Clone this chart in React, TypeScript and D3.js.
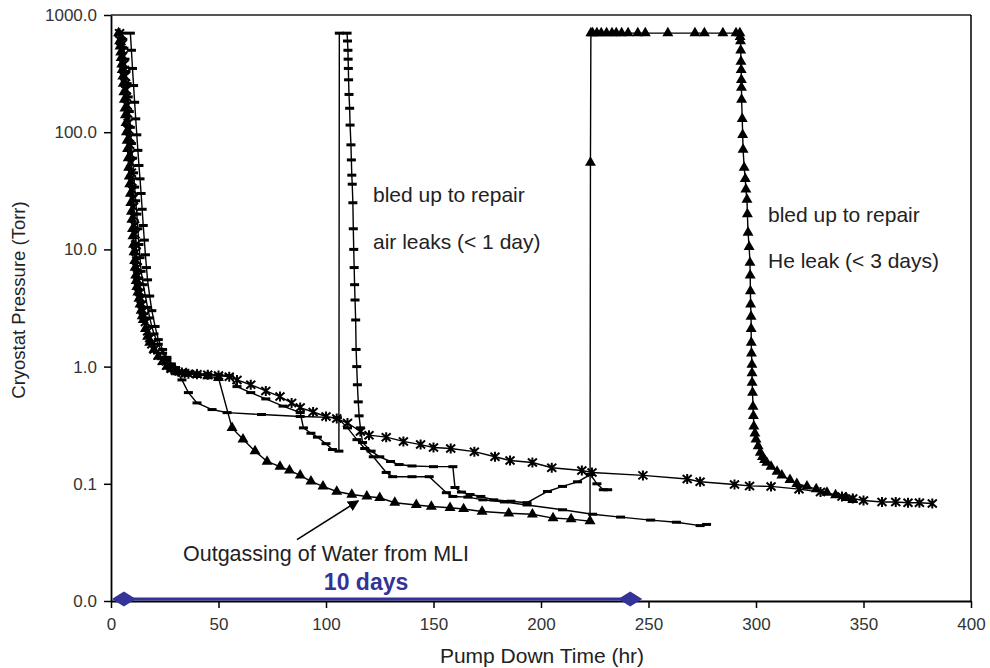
import * as d3 from "d3";
import { useEffect, useRef } from "react";

const xTicks = [0, 50, 100, 150, 200, 250, 300, 350, 400];
const yTicks = [0.01, 0.1, 1, 10, 100, 1000];

// run A (asterisk markers): uninterrupted pumpdown
const runA: [number, number][] = [
  [4, 700], [4.6, 600], [5, 560], [5.2, 500], [5.5, 450], [6, 380], [6.2, 340], [6.5, 300],
  [6.8, 260], [7, 230], [7.2, 200], [7.5, 170], [7.7, 145], [8, 120], [8.2, 105], [8.5, 90],
  [8.7, 78], [9, 65], [9.2, 55], [9.5, 45], [9.7, 38], [10, 32], [10.2, 27], [10.5, 23],
  [10.7, 19], [11, 16], [11.2, 13.5], [11.5, 11], [11.7, 9.5], [12, 8], [12.2, 7], [12.5, 6],
  [12.8, 5.4], [13, 4.8], [13.5, 4.3], [14, 3.8], [14.5, 3.4], [15, 3], [15.5, 2.7], [16, 2.4],
  [17, 2], [18, 1.75], [19, 1.55], [20, 1.4], [22, 1.25], [24, 1.12], [26, 1.02], [28, 0.96],
  [30, 0.92], [33, 0.89], [36, 0.87], [40, 0.86], [45, 0.85], [50, 0.84], [55, 0.82],
  [58.6, 0.77], [65, 0.7], [72, 0.62], [78.6, 0.555], [84, 0.49], [88, 0.447], [94, 0.41],
  [100, 0.375], [105, 0.36], [110, 0.33], [116, 0.28], [120, 0.26], [128, 0.25], [136, 0.23],
  [144, 0.216], [150, 0.204], [158, 0.2], [169, 0.188], [178.6, 0.17], [185.6, 0.158],
  [196, 0.152], [205, 0.137], [219, 0.13], [223.7, 0.125], [247.4, 0.118], [268, 0.11],
  [274, 0.104], [290, 0.0985], [297, 0.096], [307, 0.095], [320, 0.09], [330, 0.085],
  [340, 0.078], [345, 0.075], [350, 0.072], [358.6, 0.07], [365, 0.07], [370.7, 0.069],
  [376, 0.069], [382, 0.068],
];

// run B (triangles): He leak, bled up at ~222 hr, repumped at ~292 hr
const runB: [number, number][] = [
  [3.5, 700], [4, 600], [4.2, 540], [4.5, 480], [4.7, 430], [5, 380], [5.2, 340], [5.5, 300],
  [5.7, 260], [6, 220], [6.2, 190], [6.5, 160], [6.7, 140], [7, 120], [7.2, 100], [7.5, 85],
  [7.7, 72], [8, 60], [8.2, 50], [8.5, 42], [8.7, 36], [9, 30], [9.2, 25], [9.5, 21],
  [9.7, 18], [10, 15], [10.2, 13], [10.5, 11], [10.7, 9.5], [11, 8], [11.2, 7], [11.5, 6],
  [11.7, 5.4], [12, 4.8], [12.5, 4.3], [13, 3.8], [13.5, 3.4], [14, 3], [14.5, 2.7], [15, 2.5],
  [16, 2.1], [17, 1.8], [18, 1.6], [20, 1.4], [22, 1.22], [24, 1.1], [26, 1.0], [28, 0.95],
  [31, 0.9], [35, 0.87], [40, 0.85], [45, 0.83], [50, 0.8], [56.3, 0.3], [61.4, 0.24],
  [67, 0.19], [72.6, 0.155], [78.6, 0.14], [83, 0.13], [88, 0.118], [93, 0.105], [98.6, 0.095],
  [105, 0.086], [112, 0.081], [119, 0.078], [125, 0.076], [132, 0.069], [142, 0.066],
  [149, 0.064], [157.7, 0.0625], [164, 0.061], [172.6, 0.058], [185, 0.056], [196, 0.055],
  [205.6, 0.051], [214, 0.05], [222.8, 0.048], [223, 55], [223.2, 700], [224, 700], [226, 700],
  [228, 700], [230.5, 700], [233, 700], [235, 700], [237.5, 700], [240.5, 700], [245, 700],
  [248.5, 700], [259, 700], [271.6, 700], [276, 700], [284.6, 700], [290.7, 700], [292.5, 700],
  [292.6, 650], [292.8, 600], [292.9, 500], [293, 400], [293.1, 340], [293.2, 280],
  [293.25, 240], [293.3, 190], [293.6, 130], [293.8, 95], [294, 71], [294.5, 50], [295, 40],
  [295.3, 32.5], [295.8, 26.6], [296, 20], [296.3, 13.9], [296.8, 10.5], [297.2, 7.7],
  [297.3, 6], [297.4, 4.4], [297.5, 3.4], [297.7, 2.67], [297.75, 2.1], [297.8, 1.6],
  [297.9, 1.3], [298.1, 1.04], [298.15, 0.88], [298.2, 0.73], [298.4, 0.6], [298.6, 0.455],
  [298.8, 0.38], [299, 0.31], [299.5, 0.27], [300, 0.24], [301, 0.21], [302, 0.185],
  [303, 0.17], [304, 0.16], [305, 0.152], [307, 0.14], [309.8, 0.127], [312, 0.118],
  [315.8, 0.108], [319, 0.1], [323.7, 0.095], [328, 0.09], [333, 0.084], [337, 0.08],
  [342, 0.076], [345, 0.073],
];

// run C (dash markers): bled up at ~106 hr for air leaks, repumped at ~110 hr
const runC: [number, number][] = [
  [5, 700], [5.5, 620], [6, 520], [6.5, 420], [7, 330], [7.5, 260], [8, 200], [8.5, 150],
  [9, 110], [9.5, 80], [10, 60], [10.5, 45], [11, 34], [11.5, 26], [12, 20], [12.5, 15],
  [13, 11], [13.5, 8.5], [14, 6.5], [15, 5], [16, 4], [17, 3.2], [18, 2.6], [19, 2.2],
  [20, 1.9], [22, 1.55], [24, 1.3], [26, 1.15], [28, 1.05], [30, 0.98], [33, 0.92],
  [36, 0.89], [40, 0.87], [45, 0.86], [50, 0.85], [55, 0.84], [58.6, 0.675], [65, 0.6],
  [72, 0.53], [80, 0.46], [88, 0.405], [89.5, 0.3], [93, 0.27], [96, 0.25], [100, 0.22],
  [103, 0.196], [106, 0.19], [106.2, 700], [109.8, 700], [110, 600], [110.2, 500], [110.3, 420],
  [110.4, 350], [110.5, 280], [110.7, 210], [111, 160], [111.2, 115], [111.6, 78], [111.8, 58],
  [112, 43], [112.2, 36], [112.5, 25], [112.7, 15], [112.9, 10], [113.1, 7], [113.3, 5],
  [113.5, 3.7], [113.8, 2.5], [114, 1.4], [114.3, 1.0], [114.6, 0.7], [115, 0.5], [115.4, 0.38],
  [116, 0.3], [117, 0.225], [121, 0.19], [125, 0.17], [130, 0.155], [134, 0.146], [140, 0.142],
  [150, 0.14], [159, 0.14], [160, 0.093], [163, 0.085], [167, 0.081], [172, 0.078], [178, 0.073],
  [186, 0.071], [193.5, 0.069], [203, 0.086], [210, 0.095], [217, 0.104], [223, 0.12],
  [226, 0.1], [229, 0.089], [231, 0.089],
];

// run D (sparse dash markers): ends at 277 hr
const runD: [number, number][] = [
  [9, 700], [9.5, 500], [10, 350], [10.5, 250], [11, 180], [11.5, 130], [12, 95], [12.5, 70],
  [13, 52], [13.5, 40], [14, 30], [14.5, 22], [15, 16], [15.5, 12], [16, 9], [16.5, 7],
  [17, 5.5], [18, 4], [19, 3], [20.5, 2.2], [22, 1.7], [24, 1.4], [26, 1.2], [28, 1.05],
  [30, 0.95], [33, 0.77], [36, 0.6], [40, 0.49], [47, 0.43], [54, 0.405], [70, 0.39],
  [88, 0.375], [105.3, 0.367], [110, 0.3], [114.4, 0.238], [118, 0.2], [122, 0.17], [128, 0.125],
  [131, 0.115], [140, 0.115], [148, 0.115], [156, 0.084], [159, 0.078], [166, 0.077],
  [173, 0.073], [183, 0.07], [193.5, 0.066], [210, 0.06], [224, 0.055], [237, 0.052],
  [251, 0.049], [263, 0.047], [274, 0.044], [277, 0.045],
];

const tenDays = [6, 241.5];
const arrowFrom: [number, number] = [86.5, 0.0334];
const arrowTo: [number, number] = [115, 0.0715];

const W = 990, H = 668;
const margin = { top: 15, right: 19, bottom: 67, left: 111 };
const font = "'Liberation Sans', Arial, sans-serif";

const Chart = () => {
  const ref = useRef<SVGSVGElement>(null);

  useEffect(() => {
    const svg = d3.select(ref.current);
    svg.selectAll("*").remove();

    const x = d3.scaleLinear().domain([0, 400]).range([margin.left, W - margin.right]);
    const y = d3.scaleLog().domain([0.01, 1000]).range([H - margin.bottom, margin.top]);

    svg.append("rect").attr("width", W).attr("height", H).attr("fill", "#fff");

    // frame
    svg.append("line")
      .attr("x1", x(0)).attr("x2", x(400)).attr("y1", y(1000)).attr("y2", y(1000))
      .attr("stroke", "#555").attr("stroke-width", 2);
    svg.append("line")
      .attr("x1", x(400)).attr("x2", x(400)).attr("y1", y(1000)).attr("y2", y(0.01))
      .attr("stroke", "#000").attr("stroke-width", 1.5);

    // axes
    const xAxis = svg.append("g")
      .attr("transform", `translate(0,${y(0.01)})`)
      .call(d3.axisBottom(x).tickValues(xTicks).tickSize(7).tickSizeOuter(0).tickPadding(10));
    const yAxis = svg.append("g")
      .attr("transform", `translate(${x(0)},0)`)
      .call(d3.axisLeft(y).tickValues(yTicks).tickFormat(d3.format(".1f")).tickSize(7).tickSizeOuter(0).tickPadding(7));
    [xAxis, yAxis].forEach((g) => {
      g.select(".domain").attr("stroke", "#000").attr("stroke-width", 1.8);
      g.selectAll(".tick line").attr("stroke", "#000").attr("stroke-width", 1.5);
      g.selectAll(".tick text").attr("fill", "#333").attr("font-size", 17).attr("font-family", font);
    });

    const line = d3.line<[number, number]>().x((d) => x(d[0])).y((d) => y(d[1]));
    const plot = svg.append("g");

    const drawLine = (data: [number, number][]) =>
      plot.append("path").datum(data).attr("d", line)
        .attr("fill", "none").attr("stroke", "#000").attr("stroke-width", 1.4);

    [runD, runC, runA, runB].forEach(drawLine);

    // dash markers
    [runD, runC].forEach((data) => {
      plot.append("g").selectAll("rect").data(data).join("rect")
        .attr("x", (d) => x(d[0]) - 4.5).attr("y", (d) => y(d[1]) - 1.5)
        .attr("width", 9).attr("height", 3).attr("fill", "#000");
    });

    // asterisks
    plot.append("g").selectAll("path").data(runA).join("path")
      .attr("transform", (d) => `translate(${x(d[0])},${y(d[1])})`)
      .attr("d", "M-4.5,-4L4.5,4M-4.5,4L4.5,-4M0,-5L0,5")
      .attr("stroke", "#000").attr("stroke-width", 2).attr("fill", "none");

    // triangles
    plot.append("g").selectAll("path").data(runB).join("path")
      .attr("transform", (d) => `translate(${x(d[0])},${y(d[1])})`)
      .attr("d", d3.symbol(d3.symbolTriangle, 52)())
      .attr("fill", "#000");

    // annotations
    const text = (t: string, tx: number, ty: number, size: number, extra?: (s: any) => void) => {
      const s = svg.append("text").attr("x", tx).attr("y", ty).text(t)
        .attr("font-family", font).attr("font-size", size).attr("fill", "#222");
      if (extra) extra(s);
      return s;
    };
    text("bled up to repair", 373, 202, 21);
    text("air leaks (< 1 day)", 373, 249, 21);
    text("bled up to repair", 768, 222, 21);
    text("He leak (< 3 days)", 768, 268, 21);
    text("Outgassing of Water from MLI", 183, 561, 21.5);

    // arrow
    svg.append("defs").append("marker")
      .attr("id", "ah").attr("viewBox", "0 0 10 10").attr("refX", 9).attr("refY", 5)
      .attr("markerWidth", 7).attr("markerHeight", 7).attr("orient", "auto")
      .append("path").attr("d", "M0,0L10,5L0,10Z").attr("fill", "#000");
    svg.append("line")
      .attr("x1", x(arrowFrom[0])).attr("y1", y(arrowFrom[1]))
      .attr("x2", x(arrowTo[0])).attr("y2", y(arrowTo[1]))
      .attr("stroke", "#000").attr("stroke-width", 1.6).attr("marker-end", "url(#ah)");

    // 10 days bar
    const by = y(0.01) - 2;
    svg.append("line")
      .attr("x1", x(tenDays[0])).attr("x2", x(tenDays[1])).attr("y1", by).attr("y2", by)
      .attr("stroke", "#333399").attr("stroke-width", 3);
    svg.append("g").selectAll("path").data(tenDays).join("path")
      .attr("d", (d) => `M${x(d) - 12},${by}L${x(d)},${by - 7.5}L${x(d) + 12},${by}L${x(d)},${by + 7.5}Z`)
      .attr("fill", "#333399");
    text("10 days", x((tenDays[0] + tenDays[1]) / 2) - 11, 590, 23, (s) =>
      s.attr("text-anchor", "middle").attr("font-weight", "bold").attr("fill", "#333399"));

    // axis titles
    text("Pump Down Time (hr)", 542, 663, 21, (s) => s.attr("text-anchor", "middle"));
    text("Cryostat Pressure (Torr)", 0, 0, 18.5, (s) =>
      s.attr("text-anchor", "middle").attr("transform", "translate(25,300) rotate(-90)"));
  }, []);

  return <svg ref={ref} width={W} height={H} style={{ position: "absolute", left: 0, top: 0 }} />;
};

export default function App() {
  return <Chart />;
}
